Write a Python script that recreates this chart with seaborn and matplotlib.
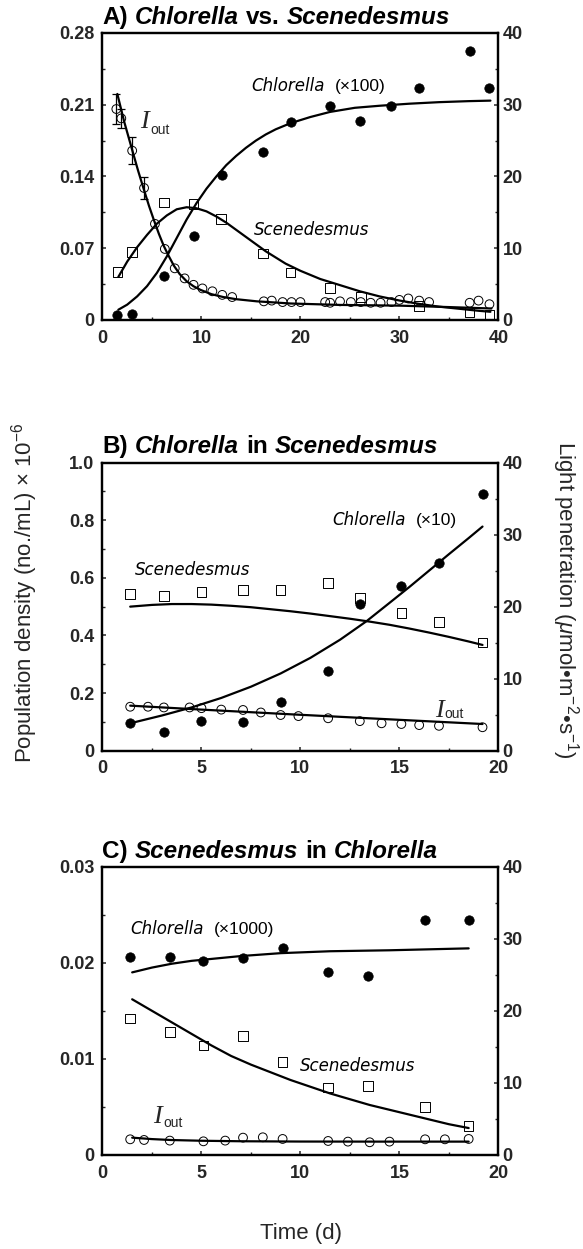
import numpy as np
import pandas as pd
import seaborn as sns
import matplotlib.pyplot as plt
from matplotlib.ticker import MultipleLocator
from matplotlib.offsetbox import TextArea, HPacker, AnnotationBbox

# ---------------- Panel A: Chlorella vs. Scenedesmus (days 0-40) ----------------
a_chl_day = [1.5, 3.0, 6.2, 9.2, 12.1, 16.2, 19.0, 23.0, 26.0, 29.2, 32.0, 37.1, 39.1]
a_chl = [0.005, 0.0055, 0.043, 0.082, 0.1415, 0.1636, 0.193, 0.209, 0.194, 0.209, 0.2266, 0.2624, 0.2266]
a_sce_day = [1.5, 3.0, 6.2, 9.2, 12.0, 16.2, 19.0, 23.0, 26.1, 32.0, 37.1, 39.1]
a_sce = [0.0471, 0.0666, 0.1145, 0.1132, 0.0985, 0.065, 0.0465, 0.0312, 0.0225, 0.0137, 0.0075, 0.0055]
a_iout_day = [1.4, 1.9, 3.0, 4.2, 5.3, 6.3, 7.3, 8.3, 9.2, 10.1, 11.1, 12.1, 13.1, 16.3, 17.1,
              18.2, 19.1, 20.0, 22.5, 23.0, 24.0, 25.1, 26.1, 27.1, 28.1, 29.2, 30.0, 30.9,
              32.0, 33.0, 37.1, 38.0, 39.1]
a_iout = [29.4, 28.1, 23.6, 18.4, 13.4, 9.9, 7.2, 5.8, 4.9, 4.4, 4.0, 3.5, 3.2, 2.6, 2.7,
          2.5, 2.5, 2.5, 2.5, 2.4, 2.6, 2.5, 2.5, 2.4, 2.4, 2.5, 2.8, 3.0, 2.7, 2.5, 2.4, 2.7, 2.2]
a_iout_err = [2.1, 1.3, 1.9, 1.5]  # error bars on the first four light readings

# fitted curves
a_chl_fit_day = [1.6, 2.5, 3.5, 4.5, 5.5, 6.5, 7.5, 8.5, 9.5, 10.5, 11.5, 12.5, 13.5, 14.5,
                 15.5, 16.5, 17.5, 19, 21, 23, 25.5, 28, 31, 34, 37, 39.2]
a_chl_fit = [0.010, 0.015, 0.023, 0.033, 0.046, 0.062, 0.080, 0.098, 0.114, 0.128, 0.140,
             0.151, 0.160, 0.168, 0.175, 0.181, 0.186, 0.192, 0.198, 0.203, 0.207, 0.209,
             0.211, 0.2125, 0.2135, 0.214]
a_sce_fit_day = [1.6, 2.5, 3.5, 4.5, 5.5, 6.5, 7.5, 8.5, 9.5, 10.5, 11.5, 12.5, 13.5, 14.5,
                 15.5, 16.5, 17.5, 18.5, 20, 22, 24, 26, 28, 30, 32, 34, 36, 38, 39.2]
a_sce_fit = [0.042, 0.057, 0.071, 0.083, 0.094, 0.102, 0.108, 0.110, 0.109, 0.106, 0.101,
             0.095, 0.088, 0.081, 0.074, 0.067, 0.061, 0.055, 0.048, 0.040, 0.034, 0.028,
             0.023, 0.019, 0.0157, 0.013, 0.011, 0.009, 0.008]
a_iout_fit_day = [1.5, 2.2, 3.0, 3.6, 4.2, 4.7, 5.2, 5.7, 6.2, 6.7, 7.2, 7.8, 8.5, 9.2, 9.9,
                  11, 12.2, 13.5, 15.6, 19, 24, 30, 35, 39.3]
a_iout_fit = [31.5, 27.6, 23.7, 20.8, 18.1, 15.9, 13.9, 12.0, 10.3, 8.9, 7.6, 6.4, 5.4, 4.7,
              4.2, 3.6, 3.2, 2.9, 2.6, 2.3, 2.1, 2.0, 1.8, 1.6]

# ---------------- Panel B: Chlorella in Scenedesmus (days 0-20) ----------------
b_day = [1.4, 3.1, 5.0, 7.1, 9.0, 11.4, 13.0, 15.1, 17.0, 19.2]
b_chl = [0.095, 0.064, 0.103, 0.101, 0.170, 0.277, 0.508, 0.573, 0.653, 0.891]
b_sce = [0.544, 0.538, 0.550, 0.558, 0.558, 0.581, 0.529, 0.477, 0.446, 0.375]
b_iout_day = [1.4, 2.3, 3.1, 4.4, 5.0, 6.0, 7.1, 8.0, 9.0, 9.9, 11.4, 13.0, 14.1, 15.1, 16.0, 17.0, 19.2]
b_iout = [6.1, 6.1, 6.0, 6.0, 5.9, 5.7, 5.65, 5.3, 4.95, 4.8, 4.5, 4.1, 3.8, 3.7, 3.55, 3.45, 3.25]

b_chl_fit_day = [1.4, 3.0, 4.5, 6.0, 7.5, 9.0, 10.5, 12.0, 13.35, 14.5, 15.5, 16.5, 17.5, 18.5, 19.2]
b_chl_fit = [0.095, 0.122, 0.150, 0.183, 0.222, 0.268, 0.322, 0.385, 0.450, 0.513, 0.568,
             0.625, 0.682, 0.738, 0.778]
b_sce_fit_day = [1.4, 2.5, 3.5, 4.5, 5.5, 6.5, 7.5, 8.5, 9.5, 10.5, 11.5, 12.5, 13.5, 14.5,
                 15.5, 16.5, 17.5, 18.5, 19.2]
b_sce_fit = [0.500, 0.506, 0.509, 0.509, 0.507, 0.503, 0.498, 0.491, 0.484, 0.476, 0.467,
             0.458, 0.448, 0.437, 0.424, 0.410, 0.395, 0.379, 0.367]
b_iout_fit_day = [1.4, 5.0, 9.5, 14.5, 19.2]
b_iout_fit = [6.25, 5.7, 5.05, 4.35, 3.7]

# ---------------- Panel C: Scenedesmus in Chlorella (days 0-20) ----------------
c_day = [1.4, 3.4, 5.1, 7.1, 9.1, 11.4, 13.4, 16.3, 18.5]
c_chl = [0.0206, 0.0206, 0.0202, 0.0205, 0.0215, 0.0190, 0.0186, 0.0244, 0.0244]
c_sce = [0.0142, 0.0128, 0.0114, 0.0124, 0.0097, 0.0070, 0.0072, 0.0050, 0.0030]
c_iout_day = [1.4, 2.1, 3.4, 5.1, 6.2, 7.1, 8.1, 9.1, 11.4, 12.4, 13.5, 14.5, 16.3, 17.3, 18.5]
c_iout = [2.17, 2.08, 1.99, 1.89, 1.99, 2.40, 2.45, 2.22, 1.94, 1.85, 1.76, 1.85, 2.17, 2.17, 2.22]

c_chl_fit_day = [1.5, 2.5, 3.5, 4.5, 5.5, 7.0, 9.0, 11.5, 14.5, 18.5]
c_chl_fit = [0.0190, 0.0195, 0.0199, 0.0202, 0.0204, 0.0207, 0.0210, 0.0212, 0.0213, 0.0215]
c_sce_fit_day = [1.5, 2.5, 3.5, 4.5, 5.5, 6.5, 7.5, 8.5, 9.5, 10.5, 11.5, 12.5, 13.5, 14.5,
                 15.5, 16.5, 17.5, 18.5]
c_sce_fit = [0.0162, 0.0150, 0.0138, 0.0126, 0.0114, 0.0103, 0.0094, 0.0086, 0.0078, 0.0071,
             0.0064, 0.0058, 0.0052, 0.0047, 0.0042, 0.0037, 0.0032, 0.0028]
c_iout_fit_day = [1.5, 2.5, 3.5, 5.0, 7.0, 10.0, 14.0, 18.5]
c_iout_fit = [2.4, 2.2, 2.07, 1.97, 1.9, 1.86, 1.85, 1.85]

# tick labels
a_yticks = [0, 0.07, 0.14, 0.21, 0.28]
a_yticklabels = ['0', '0.07', '0.14', '0.21', '0.28']
b_yticks = [0, 0.2, 0.4, 0.6, 0.8, 1.0]
b_yticklabels = ['0', '0.2', '0.4', '0.6', '0.8', '1.0']
c_yticks = [0, 0.01, 0.02, 0.03]
c_yticklabels = ['0', '0.01', '0.02', '0.03']
light_ticks = [0, 10, 20, 30, 40]

sns.set_style('ticks')
plt.rcParams['font.family'] = ['Liberation Sans', 'DejaVu Sans']
plt.rcParams['mathtext.fontset'] = 'custom'
plt.rcParams['mathtext.rm'] = 'Liberation Sans'
plt.rcParams['mathtext.it'] = 'Liberation Sans:italic'
plt.rcParams['mathtext.bf'] = 'Liberation Sans:bold'

fig = plt.figure(figsize=(5.83, 12.49), dpi=100)
ax_a = fig.add_axes([0.1758, 0.7438, 0.679, 0.2298])
ax_b = fig.add_axes([0.1758, 0.3990, 0.679, 0.2306])
ax_c = fig.add_axes([0.1758, 0.0753, 0.679, 0.2308])

DOT = dict(marker='o', s=46, color='black', edgecolor='black', linewidth=0.5, zorder=4)
RING = dict(marker='o', s=40, facecolor='none', edgecolor='black', linewidth=0.7, zorder=4)
BOX = dict(marker='s', s=48, facecolor='none', edgecolor='black', linewidth=0.7, zorder=3)


def curve(ax, x, y):
    sns.lineplot(x=x, y=y, ax=ax, color='black', linewidth=1.6, estimator=None, sort=False)


def rich(ax, xy, parts, coords='data', align=(0, 0.5), offset=(0, 0), sep=3):
    kids = [TextArea(s, textprops=p) for s, p in parts]
    box = HPacker(children=kids, align='baseline', pad=0, sep=sep)
    ab = AnnotationBbox(box, xy, xycoords=coords, xybox=offset, boxcoords='offset points',
                        box_alignment=align, frameon=False, pad=0, annotation_clip=False)
    ax.add_artist(ab)


def label_iout(ax, x, y, dy=-3):
    ax.text(x, y, 'I', family='Liberation Serif', style='italic', fontsize=19, va='baseline')
    ax.annotate('out', (x, y), xytext=(7, dy), textcoords='offset points',
                fontsize=10, va='baseline', family='Liberation Sans')


def setup(ax, ax2, xmax, xmajor, xminor, yticks, yticklabels, yminor):
    ax.set_xlim(0, xmax)
    ax.set_ylim(yticks[0], yticks[-1])
    ax2.set_ylim(0, 40)
    ax.xaxis.set_major_locator(MultipleLocator(xmajor))
    ax.xaxis.set_minor_locator(MultipleLocator(xminor))
    ax.set_yticks(yticks)
    ax.set_yticklabels(yticklabels)
    ax.yaxis.set_minor_locator(MultipleLocator(yminor))
    ax2.set_yticks(light_ticks)
    ax2.yaxis.set_minor_locator(MultipleLocator(5))
    ax.tick_params(which='major', direction='in', length=3, width=1.1, labelsize=13,
                   top=False, right=False)
    ax.tick_params(which='minor', direction='in', length=2.2, width=1.0, top=False, right=False)
    ax.tick_params(axis='y', pad=6)
    ax.tick_params(axis='x', pad=7)
    ax2.tick_params(which='major', direction='in', length=3, width=1.1, labelsize=13, pad=3)
    ax2.tick_params(which='minor', direction='in', length=2.2, width=1.0)
    for lab in ax.get_xticklabels() + ax.get_yticklabels() + ax2.get_yticklabels():
        lab.set_fontweight('bold')
    for a in (ax, ax2):
        a.set_xlabel('')
        a.set_ylabel('')
        for sp in a.spines.values():
            sp.set_visible(True)
            sp.set_linewidth(1.6)
            sp.set_color('black')


def title(ax, letter, first, mid, second):
    bold = dict(fontsize=17.5, fontweight='bold', color='black', family='Liberation Sans')
    boldit = dict(bold, style='italic')
    rich(ax, (0, 1), [(letter, bold), (first, boldit), (mid, bold), (second, boldit)],
         coords='axes fraction', align=(0, 0), offset=(0, 3), sep=5)


GENUS = dict(fontsize=12, style='oblique', family='DejaVu Sans', color='black')
PLAIN = dict(fontsize=12.5, family='Liberation Sans', color='black')

# ---- Panel A ----
ax2_a = ax_a.twinx()
curve(ax_a, a_chl_fit_day, a_chl_fit)
curve(ax_a, a_sce_fit_day, a_sce_fit)
curve(ax2_a, a_iout_fit_day, a_iout_fit)
sns.scatterplot(x=a_sce_day, y=a_sce, ax=ax_a, **BOX)
sns.scatterplot(x=a_chl_day, y=a_chl, ax=ax_a, **DOT)
sns.scatterplot(x=a_iout_day, y=a_iout, ax=ax2_a, **RING)
ax2_a.errorbar(a_iout_day[:4], a_iout[:4], yerr=a_iout_err, fmt='none', ecolor='black',
               elinewidth=0.9, capsize=3, capthick=0.9)
setup(ax_a, ax2_a, 40, 10, 5, a_yticks, a_yticklabels, 0.035)
title(ax_a, 'A)', 'Chlorella', 'vs.', 'Scenedesmus')
rich(ax_a, (15.05, 0.2283), [('Chlorella', GENUS), ('(×100)', PLAIN)], sep=7)
rich(ax_a, (15.25, 0.0878), [('Scenedesmus', GENUS)])
label_iout(ax_a, 3.84, 0.187, dy=-4)

# ---- Panel B ----
ax2_b = ax_b.twinx()
curve(ax_b, b_chl_fit_day, b_chl_fit)
curve(ax_b, b_sce_fit_day, b_sce_fit)
curve(ax2_b, b_iout_fit_day, b_iout_fit)
sns.scatterplot(x=b_day, y=b_sce, ax=ax_b, **BOX)
sns.scatterplot(x=b_day, y=b_chl, ax=ax_b, **DOT)
sns.scatterplot(x=b_iout_day, y=b_iout, ax=ax2_b, **RING)
setup(ax_b, ax2_b, 20, 5, 2.5, b_yticks, b_yticklabels, 0.1)
title(ax_b, 'B)', 'Chlorella', 'in', 'Scenedesmus')
rich(ax_b, (11.63, 0.801), [('Chlorella', GENUS), ('(×10)', PLAIN)], sep=7)
rich(ax_b, (1.63, 0.627), [('Scenedesmus', GENUS)])
label_iout(ax_b, 16.8, 0.118, dy=-1)

# ---- Panel C ----
ax2_c = ax_c.twinx()
curve(ax_c, c_chl_fit_day, c_chl_fit)
curve(ax_c, c_sce_fit_day, c_sce_fit)
curve(ax2_c, c_iout_fit_day, c_iout_fit)
sns.scatterplot(x=c_day, y=c_sce, ax=ax_c, **BOX)
sns.scatterplot(x=c_day, y=c_chl, ax=ax_c, **DOT)
sns.scatterplot(x=c_iout_day, y=c_iout, ax=ax2_c, **RING)
setup(ax_c, ax2_c, 20, 5, 2.5, c_yticks, c_yticklabels, 0.005)
title(ax_c, 'C)', 'Scenedesmus', 'in', 'Chlorella')
rich(ax_c, (1.42, 0.02349), [('Chlorella', GENUS), ('(×1000)', PLAIN)], sep=7)
rich(ax_c, (9.98, 0.00926), [('Scenedesmus', GENUS)])
label_iout(ax_c, 2.56, 0.0033, dy=-3)

# shared axis titles
fig.text(25 / 583, 1 - 593 / 1249, 'Population density (no./mL) × 10$^{-6}$',
         rotation=90, ha='center', va='center', fontsize=16)
fig.text(565 / 583, 1 - 600 / 1249, 'Light penetration ($\\mu$mol•m$^{-2}$•s$^{-1}$)',
         rotation=270, ha='center', va='center', fontsize=16)
fig.text(301 / 583, 1 - 1233 / 1249, 'Time (d)', ha='center', va='center', fontsize=16)

fig.savefig('out.png', dpi=100, facecolor='white')
